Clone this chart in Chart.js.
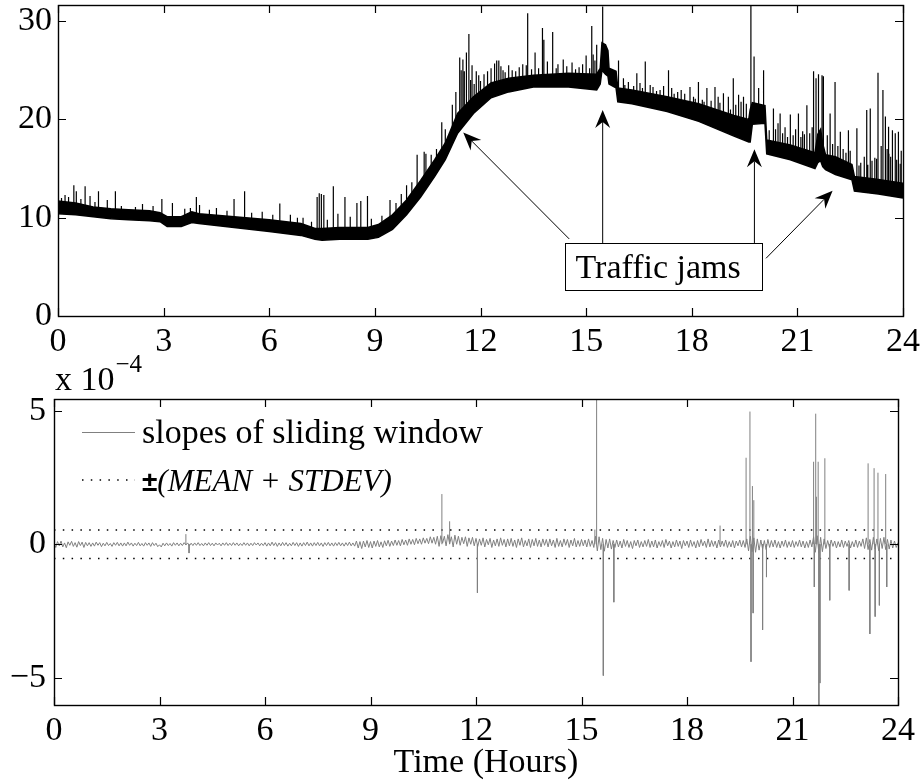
<!DOCTYPE html>
<html>
<head>
<meta charset="utf-8">
<title>Speed trace and sliding-window slopes</title>
<script src="https://cdn.jsdelivr.net/npm/chart.js@4.4.0/dist/chart.umd.min.js"></script>
<style>
  html, body { margin: 0; padding: 0; background: #fff; }
  #page { position: relative; width: 921px; height: 780px; overflow: hidden; }
  #speedChart { position: absolute; left: 0; top: 0; }
  #slopeChart { position: absolute; left: 0; top: 330px; }
</style>
</head>
<body>
<div id="page">
  <canvas id="speedChart" width="921" height="360"></canvas>
  <canvas id="slopeChart" width="921" height="450"></canvas>
</div>
<script>
// ---- axis ticks ----
const HOUR_TICKS = [0, 3, 6, 9, 12, 15, 18, 21, 24];
const SPEED_TICKS = [0, 10, 20, 30];
const SLOPE_TICKS = [-5, 0, 5];

// ---- upper panel: dense trace, given by its lower and upper edge ----
const BAND_HOURS = [0.0, 0.5, 1.0, 1.5, 2.0, 2.6, 2.9, 3.1, 3.5, 3.8, 4.0, 5.0, 6.0, 6.9, 7.3, 7.5, 8.0, 8.8, 9.1, 9.5,
  9.9, 10.3, 10.7, 11.0, 11.35, 11.8, 12.3, 12.8, 13.5, 14.5, 15.3, 15.4, 15.45, 15.55, 15.62, 15.65, 15.85, 15.9,
  16.3, 17.3, 18.2, 19.2, 19.62, 19.66, 19.72, 20.08, 20.13, 20.8, 21.5, 21.58, 21.66, 21.72, 21.8, 22.08, 22.55,
  22.62, 23.3, 24.0];
const BAND_LOW = [10.4, 10.3, 10.1, 9.9, 9.8, 9.7, 9.6, 9.1, 9.1, 9.5, 9.4, 9.0, 8.6, 8.2, 7.8, 7.7, 7.8, 7.8, 8.0, 8.8,
  10.3, 12.1, 14.2, 15.9, 18.6, 20.6, 22.2, 22.8, 23.3, 23.3, 23.0, 23.6, 25.0, 24.6, 24.4, 23.6, 23.2, 21.8,
  21.6, 20.8, 19.8, 18.3, 17.7, 17.7, 19.5, 19.6, 16.5, 15.9, 15.0, 15.6, 15.8, 15.2, 14.9, 14.4, 13.85,
  12.7, 12.4, 12.0];
const BAND_HIGH = [11.7, 11.5, 11.1, 10.9, 10.8, 10.7, 10.5, 10.1, 10.1, 10.6, 10.4, 10.1, 9.8, 9.4, 8.9, 8.9, 9.0, 9.0, 9.3, 10.3,
  11.8, 13.8, 15.9, 17.6, 20.6, 22.3, 23.7, 24.2, 24.5, 24.7, 24.6, 25.2, 27.8, 27.6, 27.0, 25.2, 24.9, 23.2,
  23.0, 22.3, 21.6, 20.4, 20.0, 21.0, 21.7, 21.4, 17.9, 17.4, 16.6, 18.5, 19.0, 17.5, 16.4, 16.2, 15.4,
  14.2, 13.9, 13.5];

// tall upward spikes of the trace: hour, value where it leaves the trace, peak value
const SPIKE_HOURS = [0.2, 0.45, 0.52, 0.77, 0.91, 1.15, 1.4, 1.63, 2.4, 2.95, 3.25, 3.76, 3.93, 4.02, 4.5, 5.0, 5.3, 5.8,
  6.3, 6.6, 6.96, 7.36, 7.42, 7.48, 7.55, 7.82, 8.15, 8.49, 8.6, 8.79, 9.43, 9.9, 10.2, 10.4, 10.45, 10.9, 11.0,
  11.41, 11.5, 11.54, 11.67, 11.76, 11.88, 12.0, 12.2, 12.4, 12.46, 12.52, 12.64, 12.8, 12.9, 13.1, 13.3, 13.34,
  13.55, 13.76, 13.8, 14.05, 14.2, 14.35, 14.6, 14.8, 15.0, 15.16, 15.25, 15.3, 15.47, 15.92, 16.06, 16.2, 16.44,
  16.53, 16.68, 16.82, 16.9, 17.1, 17.34, 17.43, 17.6, 17.8, 17.95, 18.05, 18.19, 18.3, 18.43, 18.55, 18.66, 18.8,
  18.9, 19.04, 19.18, 19.25, 19.33, 19.4, 19.47, 19.55, 19.68, 19.77, 19.9, 20.04, 20.32, 20.45, 20.51, 20.65,
  20.8, 20.95, 21.03, 21.15, 21.27, 21.35, 21.46, 21.53, 21.6, 21.7, 21.74, 21.93, 22.07, 22.22, 22.3, 22.45,
  22.5, 22.69, 22.8, 22.97, 23.0, 23.07, 23.2, 23.29, 23.43, 23.5, 23.59, 23.6, 23.7, 23.78, 23.87, 23.95];
const SPIKE_FLOOR = [11.0, 10.9, 10.9, 10.75, 10.65, 10.5, 10.4, 10.35, 10.2, 10.0, 9.6, 10.0, 9.9, 9.9, 9.7, 9.55, 9.45, 9.2,
  9.1, 8.9, 8.7, 8.3, 8.3, 8.3, 8.3, 8.35, 8.4, 8.4, 8.4, 8.4, 9.4, 11.0, 12.5, 13.5, 13.7, 16.3, 16.7,
  19.8, 20.2, 20.3, 20.9, 21.3, 21.6, 22.0, 22.8, 23.0, 23.1, 23.2, 23.3, 23.5, 23.5, 23.7, 23.8, 23.8,
  23.9, 23.9, 23.9, 24.0, 24.0, 24.0, 24.0, 23.9, 23.8, 23.8, 23.8, 23.8, 26.0, 22.4, 22.3, 22.3, 22.2,
  22.1, 22.0, 21.9, 21.8, 21.6, 21.5, 21.4, 21.2, 21.0, 20.9, 20.8, 20.7, 20.6, 20.5, 20.3, 20.2, 20.0,
  19.8, 19.6, 19.4, 19.3, 19.2, 19.1, 19.0, 18.9, 19.5, 20.5, 20.5, 20.5, 17.0, 16.9, 16.8, 16.7,
  16.6, 16.5, 16.5, 16.3, 16.1, 16.0, 15.9, 16.0, 17.0, 17.2, 16.4, 15.5, 15.3, 15.1, 15.0, 14.8,
  14.7, 13.4, 13.3, 13.3, 13.2, 13.2, 13.1, 13.1, 13.0, 13.0, 12.9, 12.9, 12.9, 12.8, 12.8, 12.7];
const SPIKE_PEAK = [12.3, 13.3, 12.7, 13.2, 12.2, 12.7, 11.8, 12.7, 11.4, 11.9, 11.5, 11.0, 12.1, 11.3, 11.0, 11.9, 12.7, 10.6,
  11.45, 10.3, 10.0, 12.1, 12.5, 12.4, 12.3, 13.2, 12.1, 11.5, 11.7, 12.2, 11.8, 13.3, 16.4, 16.7, 16.5, 19.7, 19.0,
  26.3, 26.1, 24.9, 28.7, 25.5, 24.9, 23.9, 24.9, 25.7, 26.0, 26.0, 25.0, 25.5, 25.0, 25.3, 25.5, 30.8,
  26.8, 29.3, 28.1, 28.9, 25.6, 26.1, 25.8, 25.3, 26.5, 29.5, 26.0, 27.6, 31.5, 26.0, 24.2, 23.8, 24.7,
  23.7, 25.9, 23.5, 23.3, 23.0, 25.0, 23.2, 22.8, 22.6, 23.3, 22.3, 23.8, 22.0, 23.2, 21.9, 23.3, 21.7,
  22.65, 22.3, 24.2, 21.5, 22.5, 21.8, 22.3, 21.6, 31.64, 26.4, 23.2, 25.0, 21.1, 19.6, 20.6, 19.2,
  20.5, 19.0, 20.6, 18.8, 21.45, 18.6, 24.9, 24.2, 24.6, 24.5, 24.4, 20.6, 23.8, 18.75, 17.0, 18.9,
  16.8, 19.1, 15.6, 20.95, 15.4, 21.1, 16.1, 24.75, 23.0, 20.3, 19.25, 16.5, 18.9, 18.6, 18.75, 16.8];

// short hairs along the trace: hour, value where it leaves the trace, peak value
const HAIR_HOURS = [0.1, 0.3, 0.65, 1.05, 1.8, 2.2, 2.7, 3.6, 4.3, 4.8, 5.5, 6.1, 6.8, 7.2, 7.65, 7.95, 8.3, 8.9, 9.2,
  9.6, 9.75, 10.05, 10.6, 10.75, 11.2, 11.3, 11.45, 11.6, 11.72, 11.82, 11.95, 12.1, 12.3, 12.58, 12.7, 13.0, 13.2,
  13.45, 13.65, 13.9, 14.15, 14.45, 14.7, 14.9, 15.1, 15.2, 16.1, 16.35, 16.6, 17.0, 17.2, 17.5, 17.7, 18.1, 18.35,
  18.75, 19.1, 20.2, 20.38, 20.58, 20.72, 20.88, 21.1, 21.2, 21.42, 21.85, 22.0, 22.15, 22.38, 22.75, 22.9, 23.12,
  23.25, 23.38, 23.55, 23.65, 23.82, 23.92];
const HAIR_FLOOR = [11.0, 11.0, 10.9, 10.6, 10.3, 10.2, 10.1, 9.8, 9.8, 9.6, 9.4, 9.2, 8.9, 8.6, 8.3, 8.3, 8.3, 8.5, 8.7,
  9.9, 10.3, 11.4, 14.5, 15.2, 18.8, 19.2, 19.9, 20.6, 21.0, 21.4, 21.8, 22.3, 22.8, 23.2, 23.4, 23.6, 23.8,
  23.9, 23.9, 24.0, 24.0, 24.0, 24.0, 23.9, 23.8, 23.8, 22.3, 22.2, 22.1, 21.7, 21.6, 21.3, 21.1, 20.8, 20.5,
  20.1, 19.6, 17.2, 17.1, 16.8, 16.7, 16.5, 16.3, 16.2, 16.0, 15.6, 15.4, 15.2, 14.9, 13.4, 13.3, 13.2,
  13.1, 13.0, 12.9, 12.9, 12.8, 12.8];
const HAIR_PEAK = [12.0, 12.1, 11.9, 11.6, 11.2, 11.1, 11.2, 10.9, 10.8, 10.7, 10.5, 10.3, 10.0, 9.6, 9.8, 10.4, 10.1, 9.9, 10.2,
  11.5, 12.4, 13.6, 16.4, 17.0, 21.5, 22.8, 25.0, 26.8, 24.0, 23.6, 24.5, 24.6, 25.2, 25.4, 24.8, 24.9, 25.6,
  25.1, 25.2, 25.9, 25.2, 25.4, 25.1, 25.6, 25.2, 26.6, 23.5, 23.4, 23.2, 22.9, 23.4, 22.6, 23.0, 22.1, 21.8,
  22.3, 21.0, 18.9, 19.0, 18.6, 18.2, 18.4, 18.2, 18.5, 19.2, 18.4, 17.5, 17.3, 16.6, 15.3, 16.2, 15.8,
  16.0, 17.3, 17.0, 16.2, 15.9, 15.5];

// ---- lower panel: slopes of the sliding window (units of 1e-4), one value every 0.05 h ----
const SLOPE_STEP = 0.05;
const SLOPE_TRACE = [
  0.08, -0.12, 0.1, -0.06, 0.12, -0.1, 0.05, -0.13, 0.09, -0.04, 0.11, -0.08, 0.06, -0.11, 0.1, -0.05, 0.08, -0.12, 0.07, -0.06,
  0.06, -0.08, 0.05, -0.07, 0.08, -0.04, 0.06, -0.09, 0.04, -0.06, 0.07, -0.05, 0.03, -0.08, 0.06, -0.04, 0.07, -0.06, 0.05, -0.07,
  0.05, -0.06, 0.08, -0.04, 0.05, -0.07, 0.04, -0.05, 0.07, -0.06, 0.03, -0.07, 0.06, -0.04, 0.05, -0.08, 0.06, -0.05, 0.04, -0.09,
  -0.02, -0.1, 0.04, -0.06, 0.05, -0.05, 0.03, -0.07, 0.06, -0.04, 0.05, -0.06, 0.04, -0.05, 0.06, -0.03, 0.05, -0.06, 0.04, -0.05,
  0.05, -0.04, 0.06, -0.05, 0.03, -0.06, 0.05, -0.04, 0.06, -0.05, 0.04, -0.06, 0.05, -0.03, 0.04, -0.06, 0.05, -0.04, 0.06, -0.05,
  0.04, -0.05, 0.06, -0.04, 0.05, -0.06, 0.03, -0.05, 0.06, -0.04, 0.05, -0.06, 0.04, -0.05, 0.06, -0.03, 0.05, -0.06, 0.04, -0.05,
  0.06, -0.07, 0.05, -0.06, 0.08, -0.05, 0.06, -0.08, 0.05, -0.06, 0.07, -0.05, 0.06, -0.07, 0.04, -0.06, 0.07, -0.05, 0.06, -0.08,
  0.05, -0.07, 0.06, -0.05, 0.08, -0.06, 0.05, -0.07, 0.06, -0.05, 0.07, -0.06, 0.05, -0.08, 0.06, -0.05, 0.07, -0.06, 0.05, -0.07,
  0.06, -0.05, 0.07, -0.06, 0.05, -0.07, 0.06, -0.05, 0.08, -0.06, 0.05, -0.07, 0.12, -0.14, 0.1, -0.16, 0.12, -0.1, 0.14, -0.12,
  0.1, -0.14, 0.12, -0.08, 0.14, -0.1, 0.09, -0.12, 0.13, -0.06, 0.15, -0.08, 0.12, -0.05, 0.16, -0.04, 0.14, -0.06, 0.18, -0.02,
  0.16, -0.04, 0.2, 0.0, 0.18, -0.02, 0.22, 0.02, 0.2, 0.0, 0.24, 0.04, 0.22, 0.02, 0.28, 0.04, 0.26, 0.0, 0.3, -0.08,
  0.32, 0.04, 0.3, -0.06, 0.36, 0.02, 0.28, -0.1, 0.34, 0.0, 0.3, -0.04, 0.26, 0.02, 0.28, -0.08, 0.24, 0.0, 0.26, -0.06,
  0.22, -0.08, 0.2, -0.04, 0.24, -0.1, 0.18, -0.02, 0.22, -0.12, 0.16, -0.06, 0.2, -0.08, 0.24, -0.04, 0.18, -0.1, 0.2, -0.06,
  0.22, -0.08, 0.16, -0.12, 0.2, -0.04, 0.24, -0.1, 0.14, -0.06, 0.2, -0.12, 0.18, -0.06, 0.22, -0.08, 0.16, -0.1, 0.2, -0.04,
  0.18, -0.1, 0.2, -0.06, 0.16, -0.12, 0.22, -0.08, 0.14, -0.1, 0.2, -0.04, 0.18, -0.12, 0.16, -0.06, 0.22, -0.1, 0.14, -0.08,
  0.18, -0.06, 0.16, -0.1, 0.2, -0.08, 0.14, -0.12, 0.3, -0.25, 0.28, -0.2, 0.22, -0.26, 0.18, -0.14, 0.2, -0.18, 0.14, -0.12,
  0.16, -0.1, 0.12, -0.14, 0.18, -0.08, 0.14, -0.12, 0.1, -0.16, 0.14, -0.06, 0.16, -0.12, 0.1, -0.1, 0.14, -0.08, 0.18, -0.12,
  0.12, -0.1, 0.16, -0.14, 0.1, -0.08, 0.14, -0.12, 0.18, -0.06, 0.12, -0.14, 0.1, -0.1, 0.16, -0.08, 0.12, -0.16, 0.14, -0.06,
  0.12, -0.12, 0.16, -0.08, 0.1, -0.14, 0.14, -0.1, 0.18, -0.06, 0.12, -0.12, 0.2, -0.1, 0.14, -0.08, 0.12, -0.14, 0.16, -0.1,
  0.12, -0.08, 0.16, -0.12, 0.1, -0.1, 0.14, -0.14, 0.12, -0.06, 0.16, -0.1, 0.14, -0.12, 0.2, -0.25, 0.3, -0.28, 0.24, -0.3,
  0.2, -0.22, 0.16, -0.18, 0.14, -0.2, 0.18, -0.12, 0.14, -0.1, 0.16, -0.12, 0.1, -0.14, 0.12, -0.08, 0.16, -0.12, 0.1, -0.1,
  0.14, -0.12, 0.1, -0.08, 0.16, -0.1, 0.12, -0.14, 0.1, -0.12, 0.16, -0.1, 0.28, -0.3, 0.32, -0.34, 0.26, -0.28, 0.2, -0.16,
  0.14, -0.12, 0.16, -0.08, 0.12, -0.14, 0.1, -0.1, 0.16, -0.12, 0.12, -0.08, 0.14, -0.14, 0.1, -0.1, 0.16, -0.12, 0.12, -0.08,
  0.2, -0.16, 0.24, -0.2, 0.18, -0.22, 0.26, -0.18, 0.2, -0.24, 0.22, -0.16, 0.26, -0.2, 0.18, -0.18, 0.16, -0.14, 0.12, -0.12,
  0.06
];
// isolated large slopes (units of 1e-4)
const SLOPE_SPIKE_HOURS = [3.75, 3.84, 11.03, 11.25, 12.04, 15.38, 15.43, 15.62, 15.92, 18.94, 19.68, 19.79, 19.82, 19.86,
  19.88, 19.9, 20.15, 20.26, 21.6, 21.62, 21.66, 21.68, 21.73, 21.75, 21.78, 21.92, 22.06, 22.61, 23.15, 23.2,
  23.32, 23.35, 23.43, 23.47, 23.65, 23.68];
const SLOPE_SPIKE_VALUES = [0.38, -0.33, 1.88, 0.86, -1.82, 0.55, 5.44, -4.92, -2.17, 0.7, 3.24, 4.97, -4.4, 2.18,
  -2.58, 1.65, -3.21, -1.23, 3.09, -1.6, 4.89, 1.78, 3.09, -6.02, -5.2, 3.22, -2.1, -1.73, 3.03, -3.36,
  2.85, -2.71, 2.68, -2.29, 2.63, -1.6];
// +/-(MEAN + STDEV) bound, units of 1e-4
const SLOPE_BOUND = 0.53;

// ---- traffic jam call-outs (hour, speed) ----
const JAM_TIP_HOURS = [11.51, 15.47, 19.78, 22.0];
const JAM_TIP_VALUES = [18.67, 20.96, 16.96, 12.75];

// call-out layout in data coordinates of the upper panel
const JAM_NOTE = {
  text: 'Traffic jams',
  box: { h0: 14.40, h1: 20.0, vTop: 7.43, vBottom: 2.65 },
  tails: [[14.52, 7.84], [15.47, 7.43], [19.78, 7.43], [20.11, 5.87]]
};

const SERIF = '"Liberation Serif", "Times New Roman", Times, serif';
const TICK_FONT = { family: SERIF, size: 34 };
const TICK_LEN = 8;

// ---- build point lists ----
const bandLow = BAND_HOURS.map((h, i) => ({ x: h, y: BAND_LOW[i] }));
const bandHigh = BAND_HOURS.map((h, i) => ({ x: h, y: BAND_HIGH[i] }));

function spikeSegments(hours, floors, peaks) {
  const order = hours.map((h, i) => i).sort((a, b) => hours[a] - hours[b]);
  const pts = [];
  order.forEach(i => {
    const f = Array.isArray(floors) ? floors[i] : floors;
    pts.push({ x: hours[i], y: f }, { x: hours[i], y: peaks[i] }, { x: hours[i], y: null });
  });
  return pts;
}
const speedSpikes = spikeSegments(SPIKE_HOURS, SPIKE_FLOOR, SPIKE_PEAK);
const speedHairs = spikeSegments(HAIR_HOURS, HAIR_FLOOR, HAIR_PEAK);
const slopeTrace = SLOPE_TRACE.map((v, i) => ({ x: Math.round(i * SLOPE_STEP * 100) / 100, y: v }));
const slopeSpikes = spikeSegments(SLOPE_SPIKE_HOURS, 0, SLOPE_SPIKE_VALUES);

// ---- helpers ----
function fixedScale(size, horizontal) {
  return function (s) {
    if (horizontal) s.height = size; else s.width = size;
    s.paddingTop = 0; s.paddingBottom = 0; s.paddingLeft = 0; s.paddingRight = 0;
  };
}
function fixedTicks(values) {
  return function (s) { s.ticks = values.map(v => ({ value: v })); };
}
function minusLabel(v) { return v < 0 ? '\u2212' + Math.abs(v) : String(v); }

// box around the plot area with inward ticks on all four sides
const axesFrame = {
  id: 'axesFrame',
  afterDraw(chart) {
    const { ctx, chartArea: a, scales: { x, y } } = chart;
    ctx.save();
    ctx.strokeStyle = '#000';
    ctx.lineWidth = 1.2;
    ctx.beginPath();
    x.ticks.forEach(t => {
      const px = Math.round(x.getPixelForValue(t.value)) + 0.5;
      ctx.moveTo(px, a.bottom); ctx.lineTo(px, a.bottom - TICK_LEN);
      ctx.moveTo(px, a.top); ctx.lineTo(px, a.top + TICK_LEN);
    });
    y.ticks.forEach(t => {
      const py = Math.round(y.getPixelForValue(t.value)) + 0.5;
      ctx.moveTo(a.left, py); ctx.lineTo(a.left + TICK_LEN, py);
      ctx.moveTo(a.right, py); ctx.lineTo(a.right - TICK_LEN, py);
    });
    ctx.stroke();
    ctx.lineWidth = 1.4;
    ctx.strokeRect(Math.round(a.left) + 0.5, Math.round(a.top) + 0.5,
      Math.round(a.right - a.left), Math.round(a.bottom - a.top));
    ctx.restore();
  }
};

function drawArrow(ctx, x0, y0, x1, y1) {
  const dx = x1 - x0, dy = y1 - y0, len = Math.hypot(dx, dy);
  const ux = dx / len, uy = dy / len, nx = -uy, ny = ux;
  const L = 18, W = 7.5, N = 6;
  const bx = x1 - ux * (L - N), by = y1 - uy * (L - N);
  ctx.beginPath();
  ctx.moveTo(x0, y0); ctx.lineTo(bx, by);
  ctx.stroke();
  ctx.beginPath();
  ctx.moveTo(x1, y1);
  ctx.lineTo(x1 - ux * L + nx * W, y1 - uy * L + ny * W);
  ctx.lineTo(bx, by);
  ctx.lineTo(x1 - ux * L - nx * W, y1 - uy * L - ny * W);
  ctx.closePath();
  ctx.fill();
}

const jamCallout = {
  id: 'jamCallout',
  afterDatasetsDraw(chart) {
    const { ctx, scales: { x, y } } = chart;
    ctx.save();
    ctx.strokeStyle = '#000';
    ctx.fillStyle = '#000';
    ctx.lineWidth = 1;
    JAM_TIP_HOURS.forEach((h, i) => {
      const [th, tv] = JAM_NOTE.tails[i];
      drawArrow(ctx, x.getPixelForValue(th), y.getPixelForValue(tv),
        x.getPixelForValue(h), y.getPixelForValue(JAM_TIP_VALUES[i]));
    });
    const b = JAM_NOTE.box;
    const x0 = Math.round(x.getPixelForValue(b.h0)) + 0.5, x1 = Math.round(x.getPixelForValue(b.h1)) + 0.5;
    const y0 = Math.round(y.getPixelForValue(b.vTop)) + 0.5, y1 = Math.round(y.getPixelForValue(b.vBottom)) + 0.5;
    ctx.fillStyle = '#fff';
    ctx.fillRect(x0, y0, x1 - x0, y1 - y0);
    ctx.strokeRect(x0, y0, x1 - x0, y1 - y0);
    ctx.fillStyle = '#000';
    ctx.font = '34px ' + SERIF;
    ctx.textAlign = 'left';
    ctx.textBaseline = 'alphabetic';
    ctx.fillText(JAM_NOTE.text, x0 + 10, y1 - 13);
    ctx.restore();
  }
};

// legend inside the lower panel, exponent label and x-axis title
const slopeDecor = {
  id: 'slopeDecor',
  afterDraw(chart) {
    const { ctx, chartArea: a } = chart;
    const ds = chart.data.datasets;
    ctx.save();
    ctx.fillStyle = '#000';
    ctx.textAlign = 'left';
    ctx.textBaseline = 'alphabetic';

    // legend row 1: solid grey line
    const lx0 = a.left + 28, lx1 = a.left + 81, tx = a.left + 88;
    const r1 = a.top + 33, r2 = a.top + 81;
    ctx.strokeStyle = ds[0].borderColor;
    ctx.lineWidth = 1;
    ctx.beginPath(); ctx.moveTo(lx0, r1 + 0.5); ctx.lineTo(lx1, r1 + 0.5); ctx.stroke();
    ctx.font = '34px ' + SERIF;
    ctx.fillText(ds[0].label, tx, r1 + 11);

    // legend row 2: dotted bound
    ctx.strokeStyle = ds[2].borderColor;
    ctx.lineWidth = ds[2].borderWidth;
    ctx.setLineDash(ds[2].borderDash);
    ctx.beginPath(); ctx.moveTo(lx0, r2); ctx.lineTo(lx1, r2); ctx.stroke();
    ctx.setLineDash([]);
    const lbl = ds[2].label;
    ctx.font = 'bold 28px "Liberation Sans", Arial, sans-serif';
    ctx.fillText(lbl.charAt(0), tx, r2 + 11);
    const w = ctx.measureText(lbl.charAt(0)).width;
    ctx.font = 'italic 31px ' + SERIF;
    ctx.fillText(lbl.slice(1), tx + w, r2 + 11);

    // exponent
    ctx.font = '34px ' + SERIF;
    ctx.fillText('x 10', a.left + 1, a.top - 9);
    const ew = ctx.measureText('x 10').width;
    ctx.font = '25px ' + SERIF;
    ctx.fillText('\u22124', a.left + 1 + ew + 1, a.top - 27);

    // x-axis title
    ctx.font = '34px ' + SERIF;
    ctx.textAlign = 'center';
    ctx.fillText('Time (Hours)', (a.left + a.right) / 2 + 10, a.bottom + 67);
    ctx.restore();
  }
};

const common = {
  animation: false,
  responsive: false,
  devicePixelRatio: 1,
  events: [],
  plugins: { legend: { display: false }, tooltip: { enabled: false } },
  elements: { point: { radius: 0 }, line: { tension: 0 } }
};

function hourAxis(height) {
  return {
    type: 'linear', min: 0, max: 24,
    grid: { display: false, drawTicks: false }, border: { display: false },
    ticks: { font: TICK_FONT, color: '#000', padding: 6, maxRotation: 0, autoSkip: false },
    afterBuildTicks: fixedTicks(HOUR_TICKS),
    afterFit: fixedScale(height, true)
  };
}

// ---- upper panel ----
new Chart(document.getElementById('speedChart'), {
  type: 'line',
  data: {
    datasets: [
      { label: 'lower edge', data: bandLow, borderColor: '#000', borderWidth: 1.5, fill: false },
      { label: 'upper edge', data: bandHigh, borderColor: '#000', borderWidth: 1.5, backgroundColor: '#000', fill: '-1' },
      { label: 'spikes', data: speedSpikes, borderColor: '#000', borderWidth: 1.2, spanGaps: false, fill: false },
      { label: 'hairs', data: speedHairs, borderColor: '#000', borderWidth: 1.2, spanGaps: false, fill: false }
    ]
  },
  options: Object.assign({}, common, {
    layout: { padding: { left: 0, right: 18, top: 5, bottom: 0 } },
    scales: {
      x: hourAxis(44),
      y: {
        type: 'linear', min: 0, max: 31.64,
        grid: { display: false, drawTicks: false }, border: { display: false },
        ticks: { font: TICK_FONT, color: '#000', padding: 6, includeBounds: false },
        afterBuildTicks: fixedTicks(SPEED_TICKS),
        afterFit: fixedScale(58, false)
      }
    }
  }),
  plugins: [jamCallout, axesFrame]
});

// ---- lower panel ----
new Chart(document.getElementById('slopeChart'), {
  type: 'line',
  data: {
    datasets: [
      { label: 'slopes of sliding window', data: slopeTrace, borderColor: '#808080', borderWidth: 1, fill: false },
      { label: 'large slopes', data: slopeSpikes, borderColor: '#808080', borderWidth: 1, spanGaps: false, fill: false },
      { label: '\u00b1(MEAN + STDEV)', data: [{ x: 0, y: SLOPE_BOUND }, { x: 24, y: SLOPE_BOUND }],
        borderColor: '#000', borderWidth: 1.5, borderDash: [1.5, 7.3], fill: false },
      { label: 'lower bound', data: [{ x: 0, y: -SLOPE_BOUND }, { x: 24, y: -SLOPE_BOUND }],
        borderColor: '#000', borderWidth: 1.5, borderDash: [1.5, 7.3], fill: false }
    ]
  },
  options: Object.assign({}, common, {
    layout: { padding: { left: 0, right: 23, top: 69, bottom: 0 } },
    scales: {
      x: hourAxis(75),
      y: {
        type: 'linear', min: -6.02, max: 5.44,
        grid: { display: false, drawTicks: false }, border: { display: false },
        ticks: { font: TICK_FONT, color: '#000', padding: 8, includeBounds: false, callback: minusLabel },
        afterBuildTicks: fixedTicks(SLOPE_TICKS),
        afterFit: fixedScale(54, false)
      }
    }
  }),
  plugins: [slopeDecor, axesFrame]
});
</script>
</body>
</html>
